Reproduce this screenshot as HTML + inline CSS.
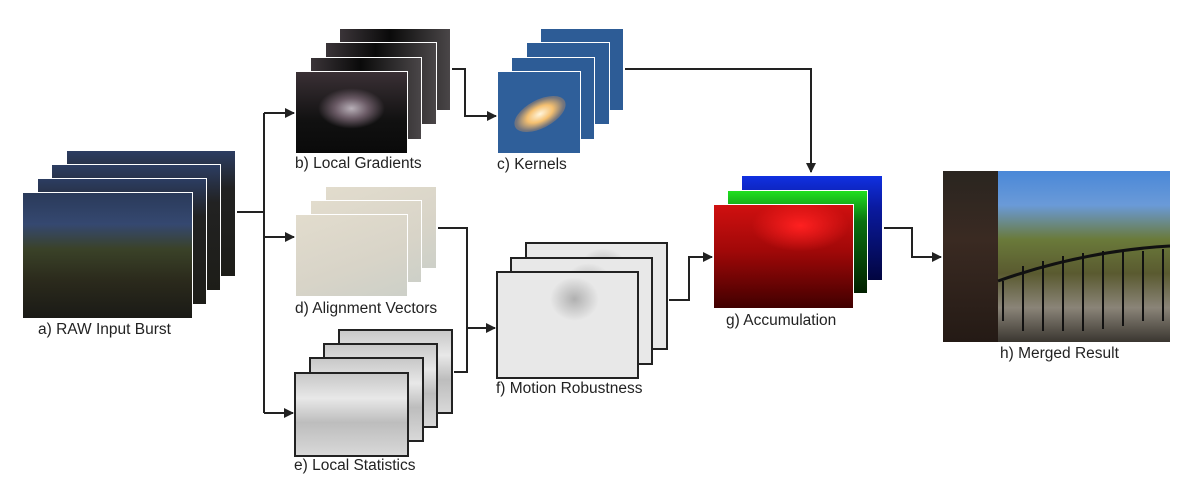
<!DOCTYPE html>
<html><head><meta charset="utf-8"><style>
body{margin:0;width:1200px;height:504px;background:#fff;position:relative;overflow:hidden;font-family:"Liberation Sans",sans-serif;}
.f{position:absolute;box-sizing:border-box;}
.w{border:1.5px solid #fff;}
.k{border:2px solid #222;}
.l{position:absolute;font-size:15.5px;color:#222;white-space:nowrap;}
.raw{background:linear-gradient(180deg,#2a3a5a 0%,#354870 25%,#3a4228 45%,#2b2a1c 70%,#1a1a16 100%);}
.rawb{background:linear-gradient(180deg,#2c3d62 0%,#222 30%,#1d1d18 100%);}
.grad{background:radial-gradient(ellipse 30% 25% at 50% 45%,#b8b0b8 0%,#6a5a65 50%,rgba(0,0,0,0) 100%),linear-gradient(180deg,#3a3035,#111 60%,#0a0a0a);}
.gradb{background:linear-gradient(90deg,#3a3438,#0a0a0a 45%,#4a4648);}
.ker{position:relative;overflow:hidden;background:#2f5f9a;}
.ker:after{content:"";position:absolute;left:14px;top:28px;width:56px;height:28px;border-radius:50%;transform:rotate(-28deg);background:radial-gradient(ellipse at center,#fff5dc 0%,#f5c070 35%,rgba(220,150,80,.4) 65%,rgba(47,95,154,0) 100%);}
.kerb{background:#2d5c96;}
.ali{background:linear-gradient(160deg,#e2dccd,#d8d4c8 60%,#cdd0c8);}
.sta{background:linear-gradient(180deg,#c8c8c8,#e8e8e8 30%,#bdbdbd 60%,#d8d8d8);}
.mot{background:radial-gradient(ellipse 25% 30% at 55% 25%,#b0b0b0,#e8e8e8 70%),#f2f2f2;}
</style></head><body>
<div class="f w rawb" style="left:66px;top:150px;width:170px;height:127px"></div>
<div class="f w rawb" style="left:51px;top:164px;width:170px;height:127px"></div>
<div class="f w rawb" style="left:37px;top:178px;width:170px;height:127px"></div>
<div class="f w raw" style="left:22px;top:192px;width:171px;height:127px"></div>
<div class="l" style="left:38px;top:321px">a) RAW Input Burst</div>
<div class="f w gradb" style="left:339px;top:28px;width:112px;height:83px"></div>
<div class="f w gradb" style="left:325px;top:42px;width:112px;height:83px"></div>
<div class="f w gradb" style="left:310px;top:57px;width:112px;height:83px"></div>
<div class="f w grad" style="left:295px;top:71px;width:113px;height:83px"></div>
<div class="l" style="left:295px;top:155px">b) Local Gradients</div>
<div class="f w kerb" style="left:540px;top:28px;width:84px;height:83px"></div>
<div class="f w kerb" style="left:526px;top:42px;width:84px;height:83px"></div>
<div class="f w kerb" style="left:511px;top:57px;width:84px;height:83px"></div>
<div class="f w ker" style="left:497px;top:71px;width:84px;height:83px"></div>
<div class="l" style="left:497px;top:156px">c) Kernels</div>
<div class="f w ali" style="left:325px;top:186px;width:112px;height:83px"></div>
<div class="f w ali" style="left:310px;top:200px;width:112px;height:83px"></div>
<div class="f w ali" style="left:295px;top:214px;width:113px;height:83px"></div>
<div class="l" style="left:295px;top:300px">d) Alignment Vectors</div>
<div class="f k sta" style="left:338px;top:329px;width:115px;height:85px"></div>
<div class="f k sta" style="left:323px;top:343px;width:115px;height:85px"></div>
<div class="f k sta" style="left:309px;top:357px;width:115px;height:85px"></div>
<div class="f k sta" style="left:294px;top:372px;width:115px;height:85px"></div>
<div class="l" style="left:294px;top:457px">e) Local Statistics</div>
<div class="f k mot" style="left:525px;top:242px;width:143px;height:108px"></div>
<div class="f k mot" style="left:510px;top:257px;width:143px;height:108px"></div>
<div class="f k mot" style="left:496px;top:271px;width:143px;height:108px"></div>
<div class="l" style="left:496px;top:380px">f) Motion Robustness</div>
<div class="f" style="left:742px;top:176px;width:140px;height:104px;background:linear-gradient(180deg,#1030e0 0%,#0a1aa0 30%,#020540 100%)"></div>
<div class="f w" style="left:727px;top:190px;width:141px;height:104px;background:linear-gradient(180deg,#20e020 0%,#0a7010 30%,#022000 100%)"></div>
<div class="f w" style="left:713px;top:204px;width:141px;height:105px;background:radial-gradient(ellipse 35% 25% at 62% 20%,#ff2020,rgba(255,0,0,0) 100%),linear-gradient(180deg,#d01010 0%,#a00808 45%,#400000 100%)"></div>
<div class="l" style="left:726px;top:312px">g) Accumulation</div>
<div class="f" style="left:943px;top:171px;width:227px;height:171px;background:linear-gradient(180deg,#4a88d8 0%,#6a9ad8 20%,#6a7a3a 40%,#5a5a30 60%,#8a8478 80%,#3a3630 100%)"></div>
<div class="f" style="left:943px;top:171px;width:55px;height:171px;background:linear-gradient(180deg,#2a2520,#3a2a22 40%,#241a15)"></div>
<svg width="227" height="171" style="position:absolute;left:943px;top:171px" stroke="#111" stroke-width="2"><path d="M60,150 V110 M80,160 V95 M100,160 V90 M120,160 V85 M140,160 V82 M160,158 V80 M180,155 V80 M200,150 V80 M220,150 V78" /><path d="M55,110 Q140,80 227,75" fill="none" stroke-width="3"/></svg>
<div class="l" style="left:1000px;top:345px">h) Merged Result</div>
<svg width="1200" height="504" style="position:absolute;left:0;top:0" fill="none" stroke="#222" stroke-width="2">
<defs><marker id="a" markerWidth="10" markerHeight="10" refX="9" refY="5" orient="auto" markerUnits="userSpaceOnUse"><path d="M0,0 L10,5 L0,10z" fill="#222" stroke="none"/></marker></defs>
<path d="M237,212 H264"/>
<path d="M264,113 V413"/>
<path d="M264,113 H294" marker-end="url(#a)"/>
<path d="M264,237 H294" marker-end="url(#a)"/>
<path d="M264,413 H293" marker-end="url(#a)"/>
<path d="M452,69 H465 V116 H496" marker-end="url(#a)"/>
<path d="M625,69 H811 V172" marker-end="url(#a)"/>
<path d="M438,228 H467 V372 H454"/>
<path d="M467,328 H495" marker-end="url(#a)"/>
<path d="M669,300 H689 V257 H712" marker-end="url(#a)"/>
<path d="M884,228 H912 V257 H941" marker-end="url(#a)"/>
</svg>
</body></html>
